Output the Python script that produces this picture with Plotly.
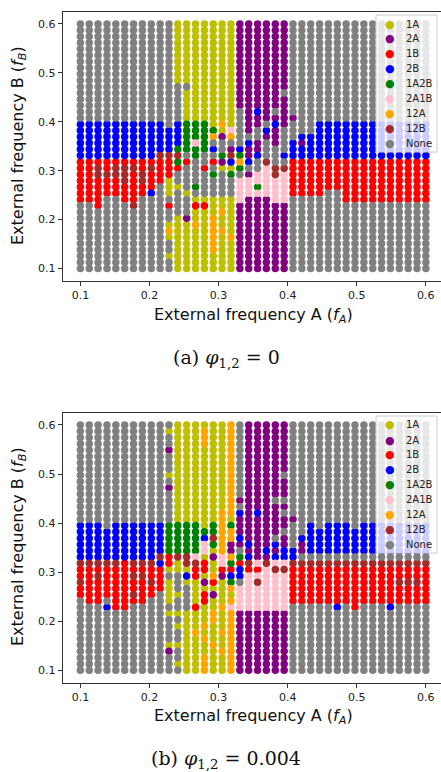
import plotly.graph_objects as go

# ---------------- data ----------------
FREQ = [0.1000, 0.1128, 0.1256, 0.1385, 0.1513, 0.1641, 0.1769, 0.1897, 0.2026, 0.2154,
        0.2282, 0.2410, 0.2538, 0.2667, 0.2795, 0.2923, 0.3051, 0.3179, 0.3308, 0.3436,
        0.3564, 0.3692, 0.3821, 0.3949, 0.4077, 0.4205, 0.4333, 0.4462, 0.4590, 0.4718,
        0.4846, 0.4974, 0.5103, 0.5231, 0.5359, 0.5487, 0.5615, 0.5744, 0.5872, 0.6000]

CATEGORIES = ["1A", "2A", "1B", "2B", "1A2B", "2A1B", "12A", "12B", "None"]
CODES = ["Y", "P", "R", "B", "G", "K", "O", "W", "."]
COLORS = ["#bfbf00", "#800080", "#ff0000", "#0000ff", "#008000", "#ffc0cb", "#ffa500", "#a52a2a", "#808080"]

TICKS = [0.1, 0.2, 0.3, 0.4, 0.5, 0.6]
TICK_LABELS = ["0.1", "0.2", "0.3", "0.4", "0.5", "0.6"]

# rows from f_B = 0.6 (top) down to 0.1; columns f_A = 0.1 .. 0.6
GRID_A = [
    "........... YYYYYYY PPPPPP ................",
    "........... YYYYYYY PPPPPP ................",
    "........... YYYYYYY PPPPPP ................",
    "........... YYYYYYY PPPPPP ................",
    "........... YYYYYYY PPPPPP ................",
    "........... YYYYYYY PPPPPP ................",
    "........... YYYYYYY PPPPPP ................",
    "........... YYYYYYY PPPPPP ................",
    "........... YYYYYYY PPPPPP ................",
    "........... YYYYYYY PPPPPP ................",
    "........... ..YYYYY PPPPPP ................",
    "........... .YYYYYY PPPPP. ................",
    "........... .YYYYYY PPPPPP ................",
    "........... .YYYYYY PPPPPP ................",
    "........... .YYYYYY .PBP.P ................",
    "........... .YYYYYY .PPPPP P...............",
    "BBBBBBBBBB. BGGGYOY .PP.BP ...BBBBBBBBBBBBB",
    "BBBBBBBBBBB BGGGGYK .P.BP. ...BBBBBBBBBBBBB",
    "BBBBBBBBBBB BGGGOPO ...PP. .BBBBBBBBBBBBBBB",
    "BBBBBBBBBBB BGKG... .BP.P. BPBBBBBBBBBBBBBB",
    "BBBBBBBBBBB GGGGB.P BPP... BBBBBBBBBBBBBBBB",
    "BBBBBBBBBWW W.G..GW GPB..B BBBBBBBBBBBBBBBB",
    "RRRRRRRRRRR GR..RPB OB.W.. RRRRRRRRRRRRRRRR",
    "RRWRWWWRWRR R..R.YY G..KWW RRRRRRRRRRRRRRRR",
    "RRWWWWRWRRR ....G.G .PKKWK RRRRRRRRRRRRRRRR",
    "RRRRRWRWRRY ....... KKKKKK RRRRRRRRRRRRRRRR",
    "RRRRRRRRR.Y Y.G.... KKGKKK RRRRRRRRRRRRRRRR",
    "RRRRRRRRB.Y .Y..... KKKKKK RRRR..RRRRRRRRRR",
    "RRR..RR.... ..YYYYY KPPPKK ......RRRRRRRRRR",
    "..R...W...R ..RRYYY PPPPPP ................",
    "........... ..YYYOY PPPPPP ................",
    "........... YPYYOYY PPPPPP ................",
    "..........Y YYOYOYY PPPPPP ................",
    "..........O YYYYOOY PPPPPP ................",
    "..........Y YYYYOYO PPPPPP ................",
    "........... YYYYOYY PPPPPP ................",
    "........... YYYYOYY PPPPPP ................",
    "..........Y YYYYYYY PPPPPP ................",
    "........... YYYYYYY PPPPPP ................",
    "........... YYYYYYY PPPPPP ................",
]

GRID_B = [
    "........... YYYYYYO .PPPPP ................",
    "..........Y YYYOYYO .PPPPP ................",
    "........... YYYOYYO .PPPPP ................",
    "........... YYYOYYO .PPPPP ................",
    "..........P YYYYYYO .PPPPP ................",
    "........... YYYYYYO .PPPPP ................",
    "........... YYYYYYO .PPPPP ................",
    "........... YYYYYYO .PPPPP ................",
    "..........Y YYYYYYO .PPPP. ................",
    "........... YYYYYYO .PPPPP ................",
    "..........P YYYYYYO .PPPPP ................",
    "........... YYYYYYO .PPPPP ................",
    "........... YYYYYYO PPPP.. ................",
    "........... YYYYYYO .PPPPP ................",
    "........... YYYYYOO BPBPP. ................",
    "........... YYYYYOY PPPPPP P...............",
    "BBB.BBBBBBG GGGYGOG PPPPPP ..B.BBB.BBBBBBBB",
    "BBBBBBBBBBG GGGGGOO PPPPP. ..BBBBBBBBBBBBBB",
    "BBBBBBBBBBG GGGBWOO BPPP.P .BBBBBBBBBBBBBBB",
    "BBBBBBBBBBG GGGKGOP PBPPBP .PBBBBBBBBBBBBBB",
    "BBBBBBBBBBG GGGKYOP .PPBPB BPBBBBBBBBBBBBBB",
    "BBBBBBBBBWR WWKYPKO GBPPBB B...............",
    "WWWWWRWWWBR YWWRYKG RWKWKK WWWWWWWWWWWWWWWW",
    "RRRRRRRRRRY YYRRYRR BRRKWW RRRRRRRRRRRRRRRR",
    "RRWRRRWWRR. .BRYOPB BKKKKK RRRRRRRRRRRRRRRR",
    "WRRRRRRRWRY .YYPRYG .KWKKK RRRRRRRRRRRRWWWR",
    "RRRRRRRRRRY ..YYYYO KKKKKK RRRRRRRRRRRRRRRR",
    "RRRRRRWRR.Y Y.YRPYY KKKKKK RRRRRRRRRRRRRRRR",
    ".RR.RRRR..Y ..YRYYO KKKKKK RRRRRRRRRRRRRRRR",
    "...BRR..... ..RYYOK KKKKKK .....B.R...B....",
    "..........Y YYYYOYO PPPPPP ................",
    "........... .YYYOYO PPPPPP ................",
    "........... YYYOYYO PPPPPP ................",
    "........... .YOYYOO PPPPPP ................",
    "........... .YYOYYO PPPPPP ................",
    "..........Y YYYYOYO PPPPPP ................",
    "..........P .YYYYOO PPPPPP ................",
    "........... .YYOYYO PPPPPP ................",
    "........... YYYOYYO PPPPPP ................",
    "........... .YYOYYO PPPPPP ................",
]

# ---------------- figure ----------------
W, H = 441, 772


def px(x):
    return x / W


def py(y):
    return 1 - y / H


fig = go.Figure()

for grid, xa, ya in [(GRID_A, "x", "y"), (GRID_B, "x2", "y2")]:
    rows = [r.replace(" ", "") for r in grid]
    for r in rows:
        assert len(r) == 40, r
    for code, name, color in zip(CODES, CATEGORIES, COLORS):
        xs, ys = [], []
        for i, row in enumerate(rows):
            for j, c in enumerate(row):
                if c == code:
                    xs.append(FREQ[j])
                    ys.append(FREQ[39 - i])
        fig.add_trace(go.Scatter(
            x=xs, y=ys, mode="markers", name=name, showlegend=False,
            marker=dict(size=7.5, color=color, line=dict(width=0)),
            xaxis=xa, yaxis=ya, hoverinfo="skip"))

axis_common = dict(
    showgrid=False, zeroline=False, showline=True, mirror=True,
    linecolor="#333333", linewidth=1, ticks="outside", ticklen=4,
    tickcolor="#333333", tickwidth=1,
    tickvals=TICKS, ticktext=TICK_LABELS,
    tickfont=dict(family="DejaVu Sans", size=11, color="#222222"),
    range=[0.0745, 0.625],
)

xdom = [px(62.7), 1.0]
fig.update_layout(
    width=W, height=H,
    margin=dict(l=0, r=0, t=0, b=0),
    paper_bgcolor="white", plot_bgcolor="white",
    showlegend=False,
    xaxis=dict(domain=xdom, anchor="y", **{**axis_common, "range": [0.0744, 0.6219]}),
    yaxis=dict(domain=[py(281), py(11.7)], anchor="x", **axis_common),
    xaxis2=dict(domain=xdom, anchor="y2", **{**axis_common, "range": [0.0744, 0.6219]}),
    yaxis2=dict(domain=[py(682.7), py(412.7)], anchor="x2", **axis_common),
)

annotations = []
shapes = []
label_font = dict(family="DejaVu Sans", size=16, color="#111111")
for off, cap in [(0, "(a) <i>φ</i><sub>1,2</sub> = 0"), (401, "(b) <i>φ</i><sub>1,2</sub> = 0.004")]:
    annotations.append(dict(x=px(253), y=py(315 + off), xref="paper", yref="paper",
                            text="External frequency A (<i>f</i><sub><i>A</i></sub>)",
                            showarrow=False, font=label_font, xanchor="center", yanchor="middle"))
    annotations.append(dict(x=px(18), y=py(146 + off), xref="paper", yref="paper",
                            text="External frequency B (<i>f</i><sub><i>B</i></sub>)",
                            showarrow=False, font=label_font, textangle=-90,
                            xanchor="center", yanchor="middle"))
    annotations.append(dict(x=px(226), y=py(358 + off), xref="paper", yref="paper",
                            text=cap, showarrow=False,
                            font=dict(family="DejaVu Serif", size=19, color="#111111"),
                            xanchor="center", yanchor="middle"))
    # legend
    shapes.append(dict(type="rect", xref="paper", yref="paper", layer="above",
                       x0=px(376), x1=px(437), y0=py(152 + off), y1=py(15 + off),
                       fillcolor="rgba(255,255,255,0.8)",
                       line=dict(color="rgba(204,204,204,1)", width=1)))
    ys_leg = [24, 39, 53.7, 68.7, 83.7, 98.3, 113.3, 128, 143]
    for yl, name, color in zip(ys_leg, CATEGORIES, COLORS):
        annotations.append(dict(x=px(390), y=py(yl + off), xref="paper", yref="paper",
                                text="●", showarrow=False,
                                font=dict(family="DejaVu Sans", size=11, color=color),
                                xanchor="center", yanchor="middle"))
        annotations.append(dict(x=px(404), y=py(yl + off), xref="paper", yref="paper",
                                text=name, showarrow=False,
                                font=dict(family="DejaVu Sans", size=10, color="#222222"),
                                xanchor="left", yanchor="middle"))

fig.update_layout(annotations=annotations, shapes=shapes)

fig.write_html(
    "out.html",
    config={"displayModeBar": False},
    post_script=["document.body.style.margin='0';document.body.style.overflow='hidden';"],
)
